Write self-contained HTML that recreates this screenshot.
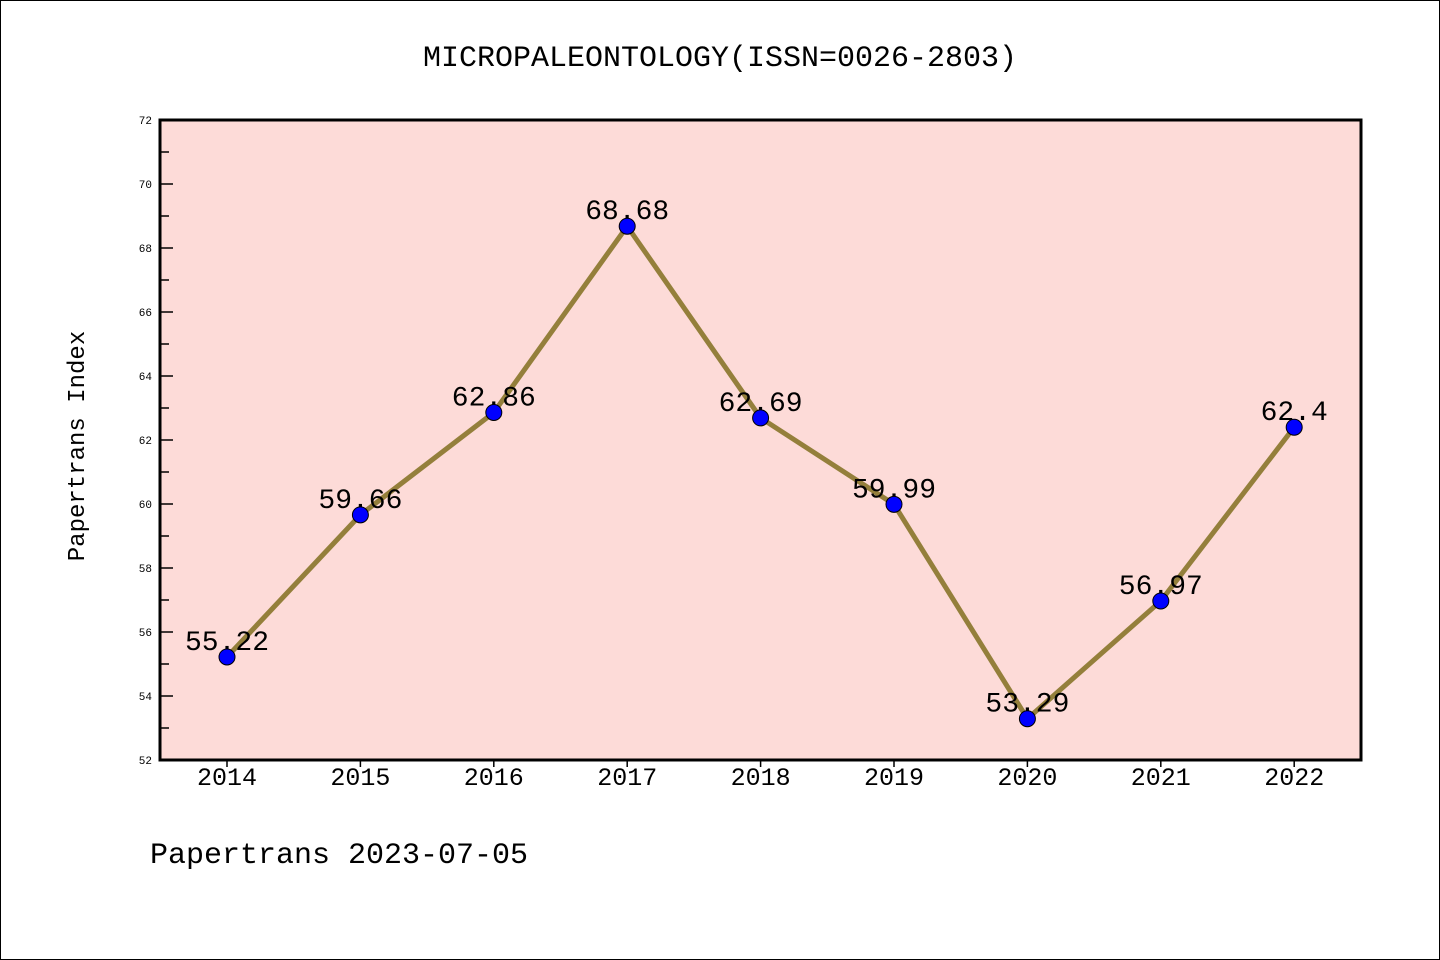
<!DOCTYPE html>
<html><head><meta charset="utf-8"><style>
html,body{margin:0;padding:0;background:#fff}
svg{display:block}
text{font-family:"Liberation Mono","WenQuanYi Zen Hei",monospace}
</style></head><body>
<svg id="c" width="1440" height="960" xmlns="http://www.w3.org/2000/svg">
<rect x="0.5" y="0.5" width="1439" height="959" fill="#fff" stroke="#000" stroke-width="1"/>
<text x="720" y="66" font-size="30" text-anchor="middle">MICROPALEONTOLOGY(ISSN=0026-2803)</text>
<rect x="160" y="120" width="1201" height="640" fill="#fddbd8"/>
<g id="axes"></g>
<g id="marks"></g>
<rect x="160" y="120" width="1201" height="640" fill="none" stroke="#000" stroke-width="3"/>
<text x="84" y="446" font-size="24" text-anchor="middle" transform="rotate(-90 84 446)">Papertrans Index</text>
<text x="150" y="863" font-size="30">Papertrans 2023-07-05</text>
</svg>
<script>
const years = ['2014','2015','2016','2017','2018','2019','2020','2021','2022'];
const values = [55.22,59.66,62.86,68.68,62.69,59.99,53.29,56.97,62.4];
const labels = ['55.22','59.66','62.86','68.68','62.69','59.99','53.29','56.97','62.4'];
const yTicks = [52,54,56,58,60,62,64,66,68,70,72];
const yMin=52,yMax=72,plotTop=120,plotBottom=760;
const xFirst=227,xStep=133.4;
const NS='http://www.w3.org/2000/svg';
function X(i){return xFirst+i*xStep;}
function Y(v){return plotBottom-(v-yMin)/(yMax-yMin)*(plotBottom-plotTop);}
function mk(t,a,p){const e=document.createElementNS(NS,t);for(const k in a)e.setAttribute(k,a[k]);p.appendChild(e);return e;}
const ax=document.getElementById('axes'),mg=document.getElementById('marks');
yTicks.forEach(v=>{
  const t=mk('line',{x1:160,x2:173,y1:Y(v),y2:Y(v),stroke:'#000','stroke-width':1.5},ax);
  
  
  const l=mk('text',{x:152,y:Y(v)+4,'font-size':11,'text-anchor':'end','font-family':'Liberation Sans, sans-serif'},ax);
  l.textContent=v;
  
  
  if(v<yMax){
    const m=mk('line',{x1:160,x2:169,y1:Y(v+1),y2:Y(v+1),stroke:'#000','stroke-width':1.5},ax);
    
    
  }
});
years.forEach((y,i)=>{
  const t=mk('line',{x1:X(i),x2:X(i),y1:760,y2:767,stroke:'#000','stroke-width':1.5},ax);
  
  
  const l=mk('text',{x:X(i),y:785,'font-size':25,'text-anchor':'middle'},ax);
  l.textContent=y;
  
  
});
const line=mk('polyline',{points:values.map((v,i)=>X(i)+','+Y(v)).join(' '),fill:'none',stroke:'#947f3b','stroke-width':5,'stroke-linejoin':'round'},mg);


values.forEach((v,i)=>{
  const l=mk('text',{x:X(i),y:Y(v)-7,'font-size':28,'text-anchor':'middle'},mg);
  l.textContent=labels[i];
  
  
});
values.forEach((v,i)=>{
  const c=mk('circle',{cx:X(i),cy:Y(v),r:8,fill:'#0000ff',stroke:'#000','stroke-width':1},mg);
  
  
});
</script>
</body></html>
